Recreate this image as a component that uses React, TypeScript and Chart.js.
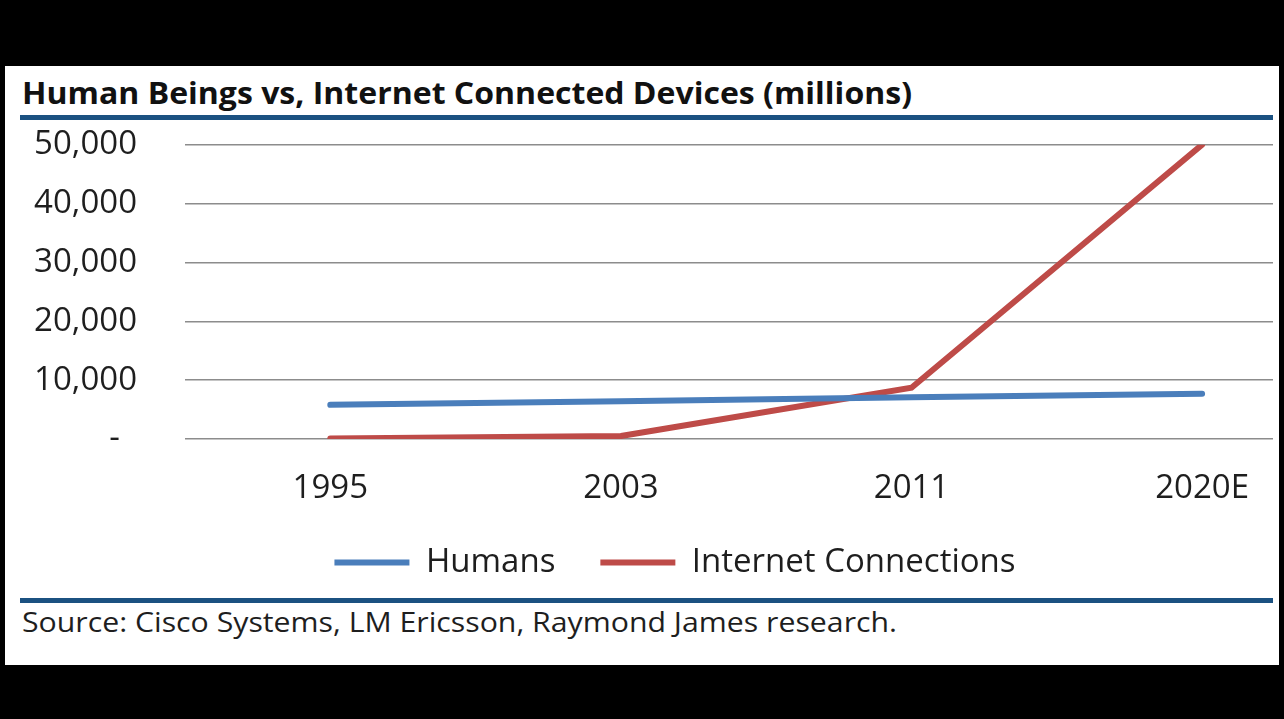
import React, { useEffect, useLayoutEffect, useRef, useState } from "react";
import { Chart, registerables } from "chart.js";

Chart.register(...registerables);

const years = ["1995", "2003", "2011", "2020E"];
const humans = [5800, 6400, 7100, 7700];
const internetConnections = [100, 500, 8700, 50000];
const yTicks = [0, 10000, 20000, 30000, 40000, 50000];

const FONT = "'Open Sans', 'Noto Sans', sans-serif";
const TEXT = "#1e1e1e";
const RULE = "#1b5181";

// Shifts the centred legend row a little to the right of the canvas centre.
const legendShift = {
  id: "legendShift",
  afterLayout(chart: any) {
    const lg = chart.legend;
    if (lg) {
      lg.left += 36;
      lg.right += 36;
    }
  },
};

function FitText(props: {
  text: string;
  left: number;
  top: number;
  width: number;
  size: number;
  weight?: number;
  color?: string;
}) {
  const ref = useRef<HTMLSpanElement | null>(null);
  const [k, setK] = useState(1);
  useLayoutEffect(() => {
    if (ref.current) {
      const w = ref.current.getBoundingClientRect().width / k;
      if (w > 0) setK(props.width / w);
    }
  }, [props.text, props.width]);
  return (
    <span
      ref={ref}
      style={{
        position: "absolute",
        left: props.left,
        top: props.top,
        fontFamily: FONT,
        fontSize: props.size,
        fontWeight: props.weight ?? 400,
        lineHeight: `${props.size}px`,
        color: props.color ?? TEXT,
        whiteSpace: "nowrap",
        transform: `scaleX(${k})`,
        transformOrigin: "0 0",
      }}
    >
      {props.text}
    </span>
  );
}

function LineChart() {
  const canvasRef = useRef<HTMLCanvasElement | null>(null);

  useEffect(() => {
    if (!canvasRef.current) return;
    const chart = new Chart(canvasRef.current, {
      type: "line",
      data: {
        datasets: [
          {
            label: "Humans",
            data: humans.map((v, i) => ({ x: i, y: v })),
            borderColor: "#4a7ebb",
            backgroundColor: "#4a7ebb",
            borderWidth: 6,
            pointRadius: 0,
            pointStyle: "line",
            tension: 0,
            borderCapStyle: "round",
          },
          {
            label: "Internet Connections",
            data: internetConnections.map((v, i) => ({ x: i, y: v })),
            borderColor: "#be4b48",
            backgroundColor: "#be4b48",
            borderWidth: 6,
            pointRadius: 0,
            pointStyle: "line",
            tension: 0,
            borderCapStyle: "round",
          },
        ],
      },
      options: {
        animation: false,
        responsive: false,
        maintainAspectRatio: false,
        layout: { padding: { left: 0, right: 6, top: 2, bottom: 0 } },
        scales: {
          x: {
            type: "linear",
            min: -0.5,
            max: 3.244,
            grid: { display: false, drawTicks: false },
            border: { display: false },
            afterBuildTicks: (scale: any) => {
              scale.ticks = years.map((_, i) => ({ value: i }));
            },
            afterFit: (scale: any) => {
              scale.height = 62;
              scale.paddingLeft = 0;
              scale.paddingRight = 0;
            },
            ticks: {
              padding: 30,
              color: TEXT,
              font: { family: FONT, size: 33 },
              maxRotation: 0,
              autoSkip: false,
              callback: (v: any) => years[Number(v)] ?? "",
            },
          },
          y: {
            min: 0,
            max: 50000,
            grid: { color: "#8c8c8c", lineWidth: 1.5, drawTicks: false },
            border: { display: false },
            afterBuildTicks: (scale: any) => {
              scale.ticks = yTicks.map((v) => ({ value: v }));
            },
            afterFit: (scale: any) => {
              scale.width = 180;
              scale.paddingTop = 19.7;
              scale.paddingBottom = 19.7;
            },
            ticks: {
              padding: 48,
              color: TEXT,
              font: { family: FONT, size: 33 },
              callback: (v: any) =>
                Number(v) === 0 ? "-  " : Number(v).toLocaleString("en-US"),
            },
          },
        },
        plugins: {
          title: { display: false },
          tooltip: { enabled: false },
          legend: {
            position: "bottom",
            labels: {
              usePointStyle: true,
              pointStyleWidth: 75,
              padding: 45,
              color: TEXT,
              font: { family: FONT, size: 33 },
            },
          },
        },
      },
      plugins: [legendShift],
    });
    return () => chart.destroy();
  }, []);

  return (
    <canvas
      ref={canvasRef}
      width={1274}
      height={464}
      style={{ position: "absolute", left: 5, top: 125, width: 1274, height: 464 }}
    />
  );
}

export default function App() {
  return (
    <div style={{ position: "fixed", left: 0, top: 0, width: 1284, height: 719, background: "#000" }}>
      <div
        style={{
          position: "absolute",
          left: 5,
          top: 66,
          width: 1274,
          height: 599,
          background: "#fff",
        }}
      />
      <FitText
        text="Human Beings vs, Internet Connected Devices (millions)"
        left={22}
        top={77}
        width={890}
        size={31}
        weight={700}
        color="#111"
      />
      <div style={{ position: "absolute", left: 20, top: 115, width: 1253, height: 5, background: RULE }} />
      <LineChart />
      <div style={{ position: "absolute", left: 20, top: 598, width: 1253, height: 5, background: RULE }} />
      <FitText
        text="Source: Cisco Systems, LM Ericsson, Raymond James research."
        left={22}
        top={608}
        width={875}
        size={27}
      />
    </div>
  );
}
